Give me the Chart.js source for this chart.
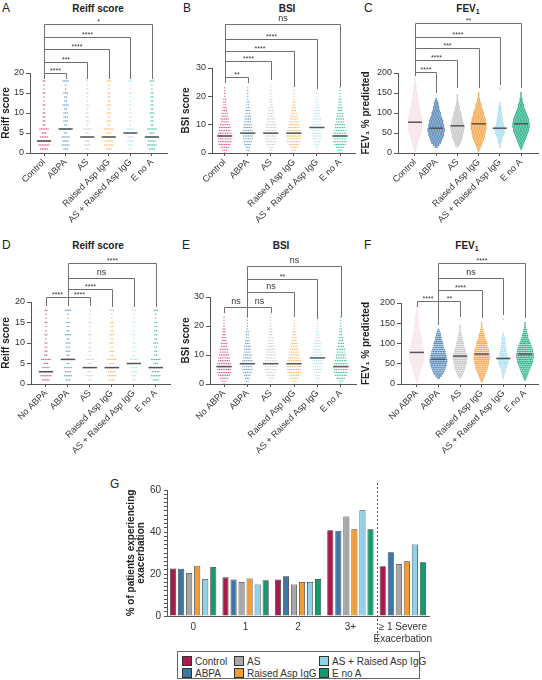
<!DOCTYPE html>
<html>
<head>
<meta charset="utf-8">
<script src="https://cdn.jsdelivr.net/npm/chart.js@4.4.1/dist/chart.umd.min.js"></script>
<style>
  body { margin: 0; background: #fff; font-family: "Liberation Sans", Arial, sans-serif; color: #222; }
  #page { position: relative; width: 542px; height: 680px; overflow: hidden; }
  canvas { position: absolute; }
  .letter { position: absolute; font-size: 12px; line-height: 12px; color: #222; }
  .ttl { position: absolute; font-size: 10px; line-height: 10px; font-weight: bold; transform: translateX(-50%); white-space: nowrap; }
  .ttl sub { font-size: 7px; vertical-align: -2px; line-height: 0; }
  #legend { position: absolute; left: 177px; top: 651px; width: 241px; height: 26px; border: 1px solid #666; font-size: 10px; color: #333; background: #fff; }
  .item { position: absolute; white-space: nowrap; line-height: 10px; }
  .sw { display: inline-block; width: 8px; height: 8px; border: 1px solid #333; vertical-align: -1px; margin-right: 3px; }
</style>
</head>
<body>
<div id="page">
  <div class="letter" style="left:2px;top:2px">A</div>
  <div class="letter" style="left:183px;top:2px">B</div>
  <div class="letter" style="left:364px;top:2px">C</div>
  <div class="letter" style="left:2px;top:239px">D</div>
  <div class="letter" style="left:182px;top:239px">E</div>
  <div class="letter" style="left:364px;top:239px">F</div>
  <div class="letter" style="left:110px;top:478px">G</div>
  <div class="ttl" style="left:98px;top:4px">Reiff score</div>
  <div class="ttl" style="left:287px;top:4px">BSI</div>
  <div class="ttl" style="left:468px;top:4px">FEV<sub>1</sub></div>
  <div class="ttl" style="left:98px;top:241px">Reiff score</div>
  <div class="ttl" style="left:281px;top:241px">BSI</div>
  <div class="ttl" style="left:467px;top:241px">FEV<sub>1</sub></div>
</div>
<script>
// groups
const groupsTop = ['Control', 'ABPA', 'AS', 'Raised Asp IgG', 'AS + Raised Asp IgG', 'E no A'];
const groupsBottom = ['No ABPA', 'ABPA', 'AS', 'Raised Asp IgG', 'AS + Raised Asp IgG', 'E no A'];

// Reiff score: patients per score level (dots in each row)
const reiffLevels = [1, 2, 3, 4, 5, 6, 7, 8, 9, 10, 11, 12, 13, 14, 15, 16, 17, 18];
const reiffControl = [5, 7, 8, 5, 3, 6, 2, 2, 2, 2, 1, 2, 1, 1, 2, 1, 1, 2];
const reiffNoAbpa = [5, 7, 8, 5, 3, 6, 2, 2, 2, 2, 1, 2, 1, 1, 2, 1, 1, 2];
const reiffAbpa = [3, 5, 4, 5, 2, 7, 2, 3, 3, 3, 2, 4, 2, 2, 3, 1, 1, 4];
const reiffAs = [2, 4, 3, 5, 2, 5, 1, 2, 2, 2, 1, 2, 1, 1, 2, 1, 1, 1];
const reiffRaised = [4, 6, 5, 6, 3, 6, 2, 3, 2, 3, 2, 3, 2, 2, 2, 1, 1, 3];
const reiffAsRaised = [2, 3, 4, 4, 5, 5, 1, 2, 2, 2, 1, 2, 1, 1, 2, 1, 1, 3];
const reiffEnoA = [4, 6, 5, 5, 3, 6, 2, 2, 2, 3, 2, 2, 2, 2, 2, 1, 1, 3];
const reiffMedTop = [3, 6, 4, 4, 5, 4];
const reiffMedBottom = [3, 6, 4, 4, 5, 4];

// BSI
const bsiLevels = [0, 1, 2, 3, 4, 5, 6, 7, 8, 9, 10, 11, 12, 13, 14, 15, 16, 17, 18, 19, 20, 21, 22, 23, 24];
const bsiControl = [1, 3, 5, 7, 8, 8, 8, 8, 7, 7, 6, 5, 5, 4, 4, 3, 3, 2, 2, 2, 1, 1, 1, 1, 0];
const bsiNoAbpa = [1, 3, 5, 7, 8, 8, 8, 8, 7, 7, 6, 5, 5, 4, 4, 3, 3, 2, 2, 2, 1, 1, 1, 1, 0];
const bsiAbpa = [0, 2, 3, 4, 5, 6, 6, 6, 6, 5, 5, 4, 4, 4, 3, 3, 2, 2, 2, 1, 1, 1, 1, 1, 0];
const bsiAs = [0, 2, 3, 5, 6, 7, 7, 7, 7, 6, 6, 5, 5, 4, 4, 3, 3, 2, 2, 2, 1, 1, 1, 1, 1];
const bsiRaised = [1, 3, 5, 6, 8, 8, 9, 8, 8, 7, 6, 6, 5, 4, 4, 3, 3, 2, 2, 1, 1, 1, 1, 0, 0];
const bsiAsRaised = [0, 1, 2, 3, 4, 5, 5, 6, 6, 6, 6, 5, 5, 4, 4, 3, 3, 2, 2, 1, 1, 1, 1, 0, 0];
const bsiEnoA = [1, 3, 5, 7, 8, 8, 8, 8, 7, 6, 6, 5, 5, 4, 4, 3, 3, 2, 2, 2, 1, 1, 1, 1, 0];
const bsiMedTop = [6, 7, 7, 7, 9, 6];
const bsiMedBottom = [6, 7, 7, 7, 9, 6];

// FEV1 % predicted, binned by 5
const fevLevels = [5, 10, 15, 20, 25, 30, 35, 40, 45, 50, 55, 60, 65, 70, 75, 80, 85, 90, 95, 100,
  105, 110, 115, 120, 125, 130, 135, 140, 145, 150, 155, 160, 165, 170, 175, 180, 185, 190, 195, 200];
const fevControl = [1, 2, 2, 3, 4, 5, 5, 6, 7, 8, 8, 9, 9, 9, 9, 9, 9, 8, 8, 7,
  7, 6, 6, 5, 5, 4, 4, 3, 3, 3, 2, 2, 2, 2, 1, 1, 1, 1, 1, 0];
const fevNoAbpa = [1, 2, 2, 3, 4, 5, 5, 6, 7, 8, 8, 9, 9, 9, 9, 9, 9, 8, 8, 7,
  7, 6, 6, 5, 5, 4, 4, 3, 3, 3, 2, 2, 2, 2, 1, 1, 1, 1, 1, 0];
const fevAbpa = [0, 0, 2, 4, 6, 7, 8, 9, 10, 10, 11, 11, 10, 10, 9, 9, 8, 7, 6, 6,
  5, 4, 4, 3, 3, 2, 1, 0, 0, 0, 0, 0, 0, 0, 0, 0, 0, 0, 0, 0];
const fevAs = [0, 0, 1, 3, 4, 5, 6, 7, 7, 8, 8, 9, 9, 8, 8, 7, 7, 6, 5, 5,
  4, 3, 3, 2, 2, 1, 1, 1, 1, 0, 0, 0, 0, 0, 0, 0, 0, 0, 0, 0];
const fevRaised = [1, 2, 3, 4, 5, 6, 7, 8, 8, 9, 9, 10, 10, 10, 10, 9, 9, 8, 7, 7,
  6, 5, 4, 4, 3, 2, 2, 1, 1, 1, 0, 0, 0, 0, 0, 0, 0, 0, 0, 0];
const fevAsRaised = [0, 0, 1, 1, 2, 3, 3, 4, 5, 6, 6, 7, 6, 5, 5, 4, 4, 3, 3, 3,
  2, 2, 2, 1, 1, 0, 0, 0, 0, 0, 0, 1, 0, 0, 0, 0, 0, 0, 0, 0];
const fevEnoA = [0, 1, 2, 3, 4, 5, 6, 7, 8, 9, 10, 10, 11, 11, 11, 10, 10, 9, 8, 7,
  6, 5, 4, 4, 3, 2, 2, 1, 1, 1, 0, 0, 0, 0, 0, 0, 0, 0, 0, 0];
const fevMedTop = [77, 62, 68, 73, 62, 73];
const fevMedBottom = [78, 61, 69, 74, 63, 74];

// significance brackets: [from, to, label]
const reiffSigTop = [[0, 1, '****'], [0, 2, '***'], [0, 3, '****'], [0, 4, '****'], [0, 5, '*']];
const bsiSigTop = [[0, 1, '**'], [0, 2, '****'], [0, 3, '****'], [0, 4, '****'], [0, 5, 'ns']];
const fevSigTop = [[0, 1, '****'], [0, 2, '****'], [0, 3, '***'], [0, 4, '****'], [0, 5, '**']];
const reiffSigBottom = [[0, 1, '****'], [1, 2, '****'], [1, 3, '****'], [1, 4, 'ns'], [1, 5, '****']];
const bsiSigBottom = [[0, 1, 'ns'], [1, 2, 'ns'], [1, 3, 'ns'], [1, 4, '**'], [1, 5, 'ns']];
const fevSigBottom = [[0, 1, '****'], [1, 2, '**'], [1, 3, '****'], [1, 4, 'ns'], [1, 5, '****']];

// exacerbations (panel G)
const exacCats = ['0', '1', '2', '3+', ['\u2265 1 Severe', 'Exacerbation']];
const exacNames = ['Control', 'ABPA', 'AS', 'Raised Asp IgG', 'AS + Raised Asp IgG', 'E no A'];
const exacControl = [22.6, 18.4, 17.4, 40.8, 23.7];
const exacAbpa = [22.5, 17.4, 18.9, 40.6, 30.4];
const exacAs = [20.5, 16.2, 15.0, 47.4, 24.8];
const exacRaised = [23.9, 17.9, 16.2, 41.3, 26.1];
const exacAsRaised = [17.6, 15.0, 16.2, 50.4, 34.1];
const exacEnoA = [23.3, 17.0, 17.6, 41.3, 25.6];

const dotColors = ['#dc5586', '#6a9dca', '#cdcdcd', '#f8b768', '#b0e3f0', '#45bf98'];
const fevColors = ['#f6e1e6', '#5588b8', '#c6c6c6', '#f6a649', '#a6def0', '#2bb28a'];
const barColors = ['#ab1a4d', '#3d77a5', '#a7a7a7', '#f39c30', '#8fd3ea', '#15996f'];

Chart.defaults.font.family = '"Liberation Sans", Arial, sans-serif';
Chart.defaults.color = '#333';

const page = document.getElementById('page');
const pitch = 0.075;

function addCanvas(left, top, w, h) {
  const c = document.createElement('canvas');
  c.width = w; c.height = h;
  c.style.left = left + 'px'; c.style.top = top + 'px';
  c.style.width = w + 'px'; c.style.height = h + 'px';
  page.appendChild(c);
  return c;
}

function bracketPlugin(sig, ys, drops) {
  return {
    id: 'brackets',
    afterDraw(chart) {
      const ctx = chart.ctx, xs = chart.scales.x;
      ctx.save();
      ctx.strokeStyle = '#707070';
      ctx.lineWidth = 1;
      ctx.fillStyle = '#333';
      ctx.textAlign = 'center';
      ctx.textBaseline = 'bottom';
      sig.forEach((b, i) => {
        const xa = Math.round(xs.getPixelForValue(b[0])) + 0.5;
        const xb = Math.round(xs.getPixelForValue(b[1])) + 0.5;
        const y = ys[i] + 0.5;
        ctx.beginPath();
        ctx.moveTo(xa, drops[i][0]);
        ctx.lineTo(xa, y);
        ctx.lineTo(xb, y);
        ctx.lineTo(xb, drops[i][1]);
        ctx.stroke();
        ctx.font = b[2] === 'ns' ? '9px "Liberation Sans", Arial' : '7px "Liberation Sans", Arial';
        ctx.fillText(b[2], (xa + xb) / 2, b[2] === 'ns' ? y - 1 : y + 1);
      });
      ctx.restore();
    }
  };
}

function dotPanel(p) {
  const cv = addCanvas(p.left, p.top, p.w, p.h);
  const datasets = [];
  p.meds.forEach((m, g) => {
    datasets.push({
      type: 'line', data: [{ x: g - 0.33, y: m }, { x: g + 0.33, y: m }],
      borderColor: '#555', borderWidth: 1.5, pointRadius: 0, order: 0
    });
  });
  p.counts.forEach((col, g) => {
    const pts = [];
    col.forEach((n, j) => {
      for (let k = 0; k < n; k++) pts.push({ x: g + (k - (n - 1) / 2) * pitch, y: p.levels[j] });
    });
    datasets.push({
      type: 'scatter', data: pts, pointRadius: p.dot, pointBorderWidth: 0,
      pointBackgroundColor: p.colors[g], order: 1
    });
  });

  new Chart(cv, {
    type: 'scatter',
    data: { datasets },
    options: {
      responsive: false,
      animation: false,
      events: [],
      layout: { padding: { left: 0, top: p.area.t, right: p.w - p.area.r, bottom: 0 } },
      plugins: { legend: { display: false }, tooltip: { enabled: false } },
      scales: {
        x: {
          type: 'linear', min: p.xr[0], max: p.xr[1],
          afterBuildTicks: s => { s.ticks = p.cats.map((c, i) => ({ value: i })); },
          afterFit: s => { s.height = p.h - p.area.b; },
          ticks: {
            callback: (v, i) => p.cats[i], minRotation: 45, maxRotation: 45, autoSkip: false,
            font: { size: 9 }, color: '#333', padding: 1
          },
          grid: { drawOnChartArea: false, tickLength: 3, color: '#555' },
          border: { color: '#555' }
        },
        y: {
          min: 0, max: p.ymax,
          afterFit: s => { s.width = p.area.l; },
          ticks: { stepSize: p.ystep, font: { size: 9 }, color: '#333', padding: 2 },
          grid: { drawOnChartArea: false, tickLength: 4, color: '#555' },
          border: { color: '#555' },
          title: { display: true, text: p.ytitle, font: { size: 10, weight: 'bold' }, color: '#222', padding: 0 }
        }
      }
    },
    plugins: [bracketPlugin(p.sig, p.by, p.drops)]
  });
}

const same = (a, n) => Array.from({ length: n }, () => a);

dotPanel({
  left: 0, top: 0, w: 180, h: 230, area: { l: 30, r: 167, t: 73, b: 153 }, xr: [-0.65, 5.7],
  ymax: 20, ystep: 5, ytitle: 'Reiff score', cats: groupsTop, levels: reiffLevels, dot: 0.7,
  counts: [reiffControl, reiffAbpa, reiffAs, reiffRaised, reiffAsRaised, reiffEnoA],
  meds: reiffMedTop, colors: dotColors, sig: reiffSigTop,
  by: [73, 62, 49, 37, 24], drops: same([79, 79], 5)
});
dotPanel({
  left: 180, top: 0, w: 180, h: 230, area: { l: 32, r: 175, t: 68, b: 153 }, xr: [-0.55, 5.65],
  ymax: 30, ystep: 10, ytitle: 'BSI score', cats: groupsTop, levels: bsiLevels, dot: 0.7,
  counts: [bsiControl, bsiAbpa, bsiAs, bsiRaised, bsiAsRaised, bsiEnoA],
  meds: bsiMedTop, colors: dotColors, sig: bsiSigTop,
  by: [77, 61, 51, 39, 24], drops: [[83, 83], [83, 80], [83, 87], [83, 89], [83, 87]]
});
dotPanel({
  left: 360, top: 0, w: 182, h: 230, area: { l: 38, r: 178, t: 73, b: 153 }, xr: [-0.8, 5.8],
  ymax: 200, ystep: 50, ytitle: 'FEV\u2081 % predicted', cats: groupsTop, levels: fevLevels, dot: 0.9,
  counts: [fevControl, fevAbpa, fevAs, fevRaised, fevAsRaised, fevEnoA],
  meds: fevMedTop, colors: fevColors, sig: fevSigTop,
  by: [72, 60, 48, 37, 23], drops: [[76, 93], [76, 88], [76, 88], [76, 85], [76, 88]]
});
dotPanel({
  left: 0, top: 230, w: 180, h: 230, area: { l: 31, r: 170, t: 72, b: 154 }, xr: [-0.68, 5.65],
  ymax: 20, ystep: 5, ytitle: 'Reiff score', cats: groupsBottom, levels: reiffLevels, dot: 0.7,
  counts: [reiffNoAbpa, reiffAbpa, reiffAs, reiffRaised, reiffAsRaised, reiffEnoA],
  meds: reiffMedBottom, colors: dotColors, sig: reiffSigBottom,
  by: [67, 67, 59, 48, 33], drops: [[76, 76], [76, 76], [76, 77], [76, 77], [76, 77]]
});
dotPanel({
  left: 180, top: 230, w: 180, h: 230, area: { l: 30, r: 177, t: 67, b: 154 }, xr: [-0.6, 5.65],
  ymax: 30, ystep: 10, ytitle: 'BSI score', cats: groupsBottom, levels: bsiLevels, dot: 0.7,
  counts: [bsiNoAbpa, bsiAbpa, bsiAs, bsiRaised, bsiAsRaised, bsiEnoA],
  meds: bsiMedBottom, colors: dotColors, sig: bsiSigBottom,
  by: [77, 77, 62, 49, 36], drops: [[83, 87], [87, 83], [87, 87], [87, 89], [87, 87]]
});
dotPanel({
  left: 360, top: 230, w: 182, h: 230, area: { l: 41, r: 179, t: 73, b: 154 }, xr: [-0.73, 5.6],
  ymax: 200, ystep: 50, ytitle: 'FEV\u2081 % predicted', cats: groupsBottom, levels: fevLevels, dot: 0.9,
  counts: [fevNoAbpa, fevAbpa, fevAs, fevRaised, fevAsRaised, fevEnoA],
  meds: fevMedBottom, colors: fevColors, sig: fevSigBottom,
  by: [71, 71, 60, 48, 33], drops: [[77, 95], [95, 87], [95, 88], [95, 85], [95, 88]]
});

// panel G
const exacSeries = [exacControl, exacAbpa, exacAs, exacRaised, exacAsRaised, exacEnoA];
const cvG = addCanvas(100, 480, 340, 170);
new Chart(cvG, {
  type: 'bar',
  data: {
    labels: exacCats,
    datasets: exacSeries.map((d, i) => ({
      label: exacNames[i], data: d, backgroundColor: barColors[i],
      borderColor: '#333', borderWidth: 0.8, barPercentage: 0.76, categoryPercentage: 0.92
    }))
  },
  options: {
    responsive: false,
    animation: false,
    events: [],
    layout: { padding: { left: 26, top: 10, right: 11, bottom: 0 } },
    plugins: { legend: { display: false }, tooltip: { enabled: false } },
    scales: {
      x: {
        afterFit: s => { s.height = 34; },
        grid: { display: false, drawTicks: false },
        border: { color: '#555' },
        ticks: {
          font: { size: 10, lineHeight: 1.2 }, color: '#333', padding: 5,
          minRotation: 0, maxRotation: 0, autoSkip: false
        }
      },
      y: {
        min: 0, max: 60,
        afterFit: s => { s.width = 41; },
        ticks: {
          stepSize: 2, autoSkip: false, font: { size: 10 }, color: '#333', padding: 3,
          callback: v => (v % 20 === 0 ? v : '')
        },
        grid: { drawOnChartArea: false, tickLength: 3, color: '#555' },
        border: { color: '#555' },
        title: {
          display: true, text: ['% of patients experiencing', 'exacerbation'],
          font: { size: 10, weight: 'bold', lineHeight: 1.0 }, color: '#222', padding: 0
        }
      }
    }
  },
  plugins: [{
    id: 'separator',
    afterDraw(chart) {
      const xs = chart.scales.x, ctx = chart.ctx;
      const x = Math.round((xs.getPixelForTick(3) + xs.getPixelForTick(4)) / 2) + 0.5;
      ctx.save();
      ctx.strokeStyle = '#555';
      ctx.lineWidth = 1;
      ctx.setLineDash([2, 2]);
      ctx.beginPath();
      ctx.moveTo(x, 3);
      ctx.lineTo(x, 164);
      ctx.stroke();
      ctx.restore();
    }
  }]
});

// legend for G, 3 columns x 2 rows
const legend = document.createElement('div');
legend.id = 'legend';
page.appendChild(legend);
const legendPos = [[4, 4], [4, 16], [56, 4], [56, 16], [141, 4], [141, 16]];
exacNames.forEach((name, g) => {
  const it = document.createElement('div');
  it.className = 'item';
  it.style.left = legendPos[g][0] + 'px';
  it.style.top = legendPos[g][1] + 'px';
  it.innerHTML = '<span class="sw" style="background:' + barColors[g] + '"></span>' + name;
  legend.appendChild(it);
});
</script>
</body>
</html>
